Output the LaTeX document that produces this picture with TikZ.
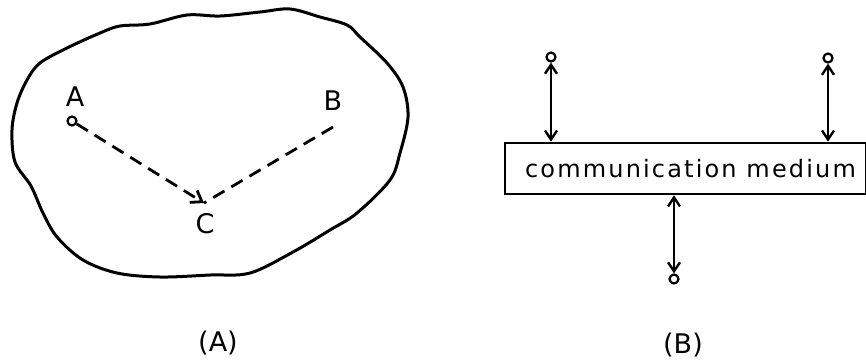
\documentclass[tikz,border=0pt]{standalone}
\usepackage{fontspec}
\setmainfont{DejaVu Sans}
\usetikzlibrary{arrows.meta}
\begin{document}
\begin{tikzpicture}[x=1pt,y=-1pt,
  outline/.style={line width=3pt,line join=round},
  dashedlink/.style={line width=2.8pt,dash pattern=on 13pt off 8pt},
  link/.style={line width=2.4pt},
  barb/.tip={Straight Barb[length=9pt,width=12pt,line width=2.4pt]},
  bigbarb/.tip={Straight Barb[length=10pt,width=14pt,line width=2.8pt]},
  port/.style={circle,draw,line width=2.2pt,minimum size=9pt,inner sep=0pt},
  letter/.style={font=\fontsize{27}{30}\selectfont,inner sep=0pt},
  caption/.style={font=\fontsize{27}{30}\selectfont,inner sep=0pt},
  medium/.style={draw,line width=2.6pt,minimum width=361pt,minimum height=51pt,inner sep=0pt,font=\fontsize{24}{28}\selectfont}]
\useasboundingbox (0,0) rectangle (866,360);

% (A) region boundary
\draw[outline] plot[smooth cycle,tension=0.55] coordinates{
  (150,24) (120,26) (100,33) (67,48) (40,63) (27,80) (17,103) (12,130)
  (15,162) (31,186) (43,213) (57,237) (83,260) (117,273) (160,277)
  (210,275) (250,273) (293,252) (330,230) (357,213) (390,180) (400,153)
  (408,117) (403,87) (387,63) (360,37) (347,25) (320,17) (290,9)
  (260,12) (220,16) (187,15)};

% points A, B, C
\node[port,minimum size=9pt] (a) at (72,121) {};
\coordinate (b) at (333,127);
\coordinate (c) at (204,203);
\node[letter] (la) at (75,97) {A};
\node[letter] (lb) at (333,101) {B};
\node[letter] (lc) at (205,224) {C};
\draw[dashedlink,-bigbarb] (a) -- (c);
\draw[dashedlink] (b) -- (c);

% (B) shared medium
\node[medium] (m) at (685.5,168.5) {\hspace*{10pt}\addfontfeatures{LetterSpace=9}communication medium};
\node[port] (p1) at (551,57) {};
\node[port] (p2) at (828,58) {};
\node[port] (p3) at (674,279) {};
\draw[link,barb-barb] (p1) -- (p1 |- m.north);
\draw[link,barb-barb] (p2) -- (p2 |- m.north);
\draw[link,barb-barb] (m.south -| p3) -- (p3);

% captions
\node[caption] (capa) at (218,343) {(A)};
\node[caption] (capb) at (683,345) {(B)};
\end{tikzpicture}
\end{document}
